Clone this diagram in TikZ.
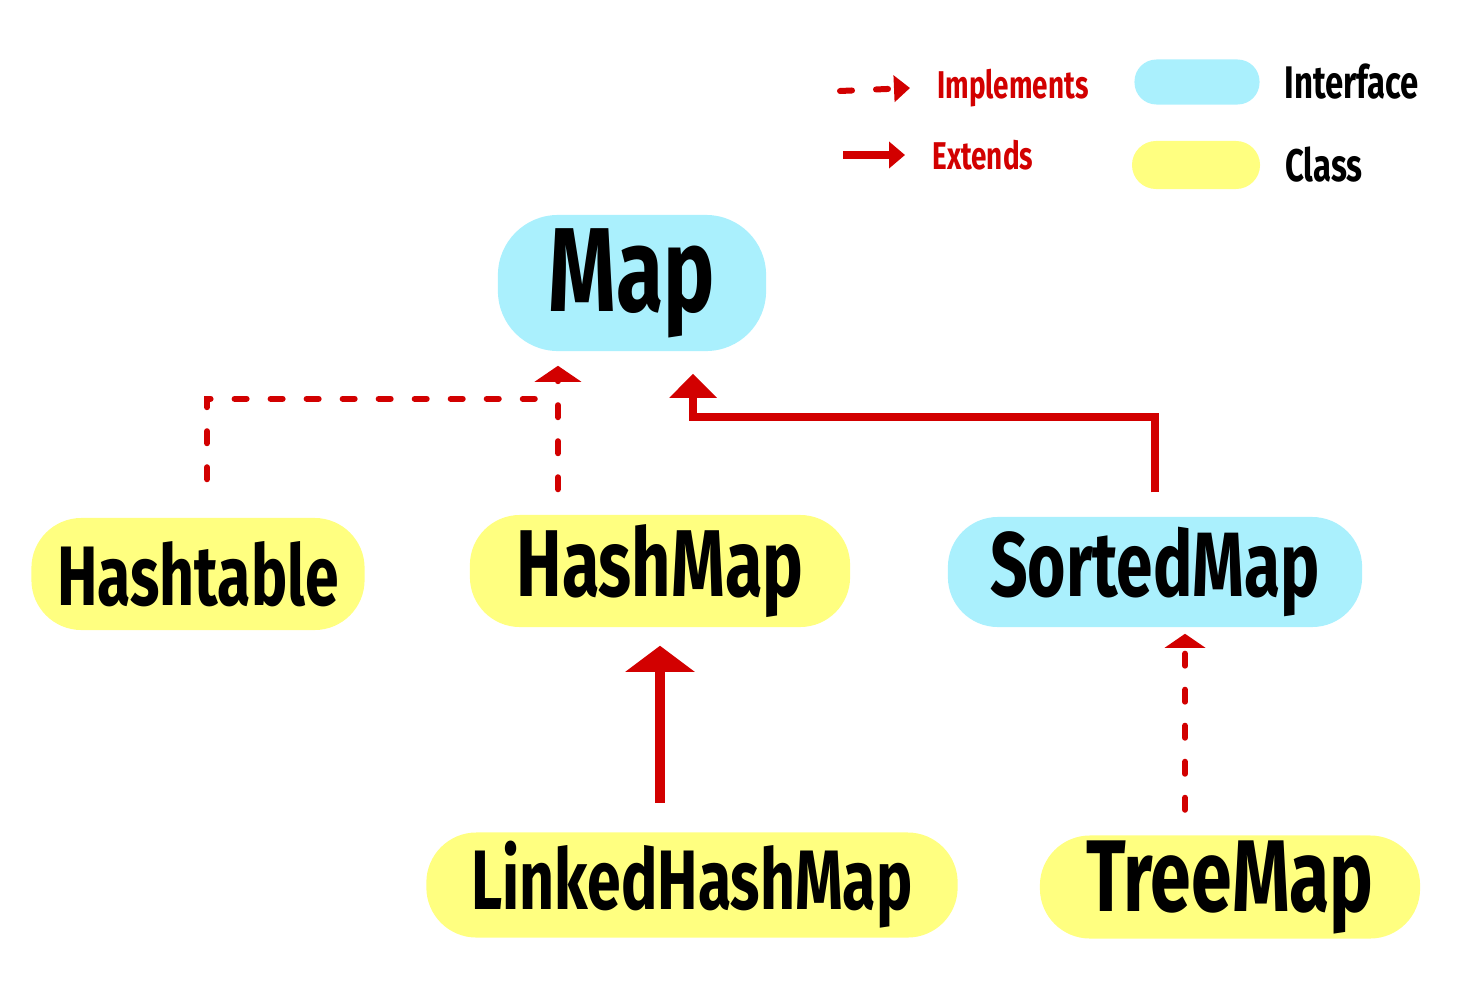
\documentclass[tikz,border=0pt]{standalone}
\usepackage{fontspec}
\usepackage{xcolor}
\usepackage{tikz}
\usetikzlibrary{arrows.meta,positioning}
\newfontfamily\handfont[FakeStretch=0.72]{Fira Sans}
\definecolor{ifaceblue}{HTML}{AAF0FD}
\definecolor{clsyellow}{HTML}{FFFF80}
\definecolor{arrowred}{HTML}{D20000}
\tikzstyle{blob} = [rectangle, rounded corners=0.5cm, inner sep=0pt,
    font=\handfont\bfseries]
\tikzstyle{iface} = [blob, fill=ifaceblue]
\tikzstyle{cls} = [blob, fill=clsyellow]
\tikzstyle{redtext} = [text=arrowred, font=\handfont\bfseries\fontsize{11}{11}\selectfont]
\tikzstyle{blacktext} = [font=\handfont\bfseries\fontsize{13}{13}\selectfont]
\tikzstyle{implements} = [arrowred, line width=0.06cm, line cap=round,
    dash pattern=on 0.12cm off 0.24cm]
\tikzstyle{extends} = [arrowred, line width=0.08cm]

\begin{document}
\begin{tikzpicture}[x=0.01cm, y=-0.01cm]
		\useasboundingbox (0,0) rectangle (1479,1000);
		% legend
		\coordinate (imp a) at (840,91);
		\coordinate (imp b) at (910,88);
		\coordinate (ext a) at (843,155);
		\coordinate (ext b) at (905,155);
		\node[redtext, right=0.15cm of imp b] (imp text) {Implements};
		\node[redtext, right=0.15cm of ext b] (ext text) {Extends};
		\node[iface, rounded corners=0.22cm, minimum width=1.25cm, minimum height=0.45cm] (key iface) at (1197,82) {};
		\node[cls, rounded corners=0.24cm, minimum width=1.28cm, minimum height=0.48cm] (key cls) at (1196,165) {};
		\node[blacktext, right=0.12cm of key iface] (iface text) {Interface};
		\node[blacktext, right=0.12cm of key cls] (cls text) {Class};
		
		% classes
		\node[iface, minimum width=2.68cm, minimum height=1.36cm, rounded corners=0.6cm,
		    font=\handfont\bfseries\fontsize{34}{34}\selectfont] (map) at (632,283) {Map};
		\node[cls, minimum width=3.33cm, minimum height=1.12cm,
		    font=\handfont\bfseries\fontsize{24}{24}\selectfont] (hashtable) at (198,574) {Hashtable};
		\node[cls, minimum width=3.8cm, minimum height=1.12cm,
		    font=\handfont\bfseries\fontsize{27}{27}\selectfont] (hashmap) at (660,571) {HashMap};
		\node[iface, minimum width=4.14cm, minimum height=1.1cm,
		    font=\handfont\bfseries\fontsize{26}{26}\selectfont] (sortedmap) at (1155,572) {SortedMap};
		\node[cls, minimum width=5.31cm, minimum height=1.05cm,
		    font=\handfont\bfseries\fontsize{24}{24}\selectfont] (linkedhashmap) at (692,885) {LinkedHashMap};
		\node[cls, minimum width=3.8cm, minimum height=1.03cm,
		    font=\handfont\bfseries\fontsize{29}{29}\selectfont] (treemap) at (1230,887) {TreeMap};
		
		\coordinate (map imp) at ([xshift=-0.74cm]map.south);
		\coordinate (imp joint) at ([yshift=-0.47cm]map imp);
		\coordinate (map ext) at ([xshift=0.61cm]map.south);
		\coordinate (ext joint) at ([yshift=-0.65cm]map ext);
		\coordinate (sm in) at ([xshift=0.3cm]sortedmap.south);
		
		\draw[implements, -{Triangle[width=0.26cm, length=0.16cm]}] (imp a) to (imp b);
		\draw[extends, -{Triangle[width=0.26cm, length=0.16cm]}] (ext a) to (ext b);
		\draw[implements, shorten <=0.38cm] ([xshift=0.09cm]hashtable.north) |- (imp joint);
		\draw[implements, shorten <=0.25cm, shorten >=0.14cm,
		    -{Triangle[width=0.46cm, length=0.16cm]}] (map imp |- hashmap.north) to (map imp);
		\draw[extends, shorten <=0.24cm, shorten >=0.22cm,
		    -{Triangle[width=0.46cm, length=0.24cm]}] (sortedmap.north) |- (ext joint) to (map ext);
		\draw[extends, line width=0.1cm, shorten <=0.29cm, shorten >=0.18cm,
		    -{Triangle[width=0.68cm, length=0.26cm]}] (hashmap.south |- linkedhashmap.north) to (hashmap.south);
		\draw[implements, shorten <=0.25cm, shorten >=0.06cm,
		    -{Triangle[width=0.4cm, length=0.14cm]}] (sm in |- treemap.north) to (sm in);
	\end{tikzpicture}
\end{document}
